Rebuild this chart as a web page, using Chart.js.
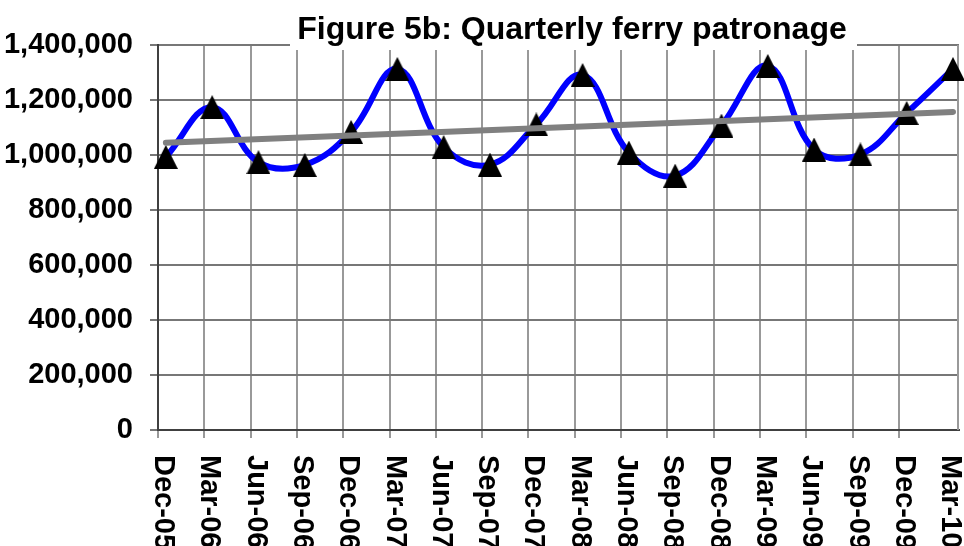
<!DOCTYPE html>
<html>
<head>
<meta charset="utf-8">
<script src="https://cdn.jsdelivr.net/npm/chart.js@4"></script>
<style>
body{margin:0;background:#fff}
</style>
</head>
<body>
<canvas id="myChart" width="964" height="546"></canvas>
<script>
const quarters = ["Dec-05","Mar-06","Jun-06","Sep-06","Dec-06","Mar-07","Jun-07","Sep-07","Dec-07","Mar-08","Jun-08","Sep-08","Dec-08","Mar-09","Jun-09","Sep-09","Dec-09","Mar-10"]

const patronage = [993000,1174000,974000,964000,1084000,1313000,1029000,965000,1111000,1291000,1009000,925000,1107000,1324000,1020000,1002000,1153000,1313000]

const trendEnds = [1044700,1156400]

const yTicks = [0,200000,400000,600000,800000,1000000,1200000,1400000]

const titleText = "Figure 5b: Quarterly ferry patronage"

const font = "'Liberation Sans', Arial, sans-serif"
const shift = 0.17

// excel style triangle marker
const tri = document.createElement("canvas")
tri.width = 24
tri.height = 24
const tc = tri.getContext("2d")
tc.fillStyle = "#000"
tc.beginPath()
tc.moveTo(12,0)
tc.lineTo(24,24)
tc.lineTo(0,24)
tc.closePath()
tc.fill()

const extras = {
id:"extras",
beforeDatasetsDraw(chart){
const ctx = chart.ctx
const a = chart.chartArea
ctx.save()
ctx.strokeStyle = "#999"
ctx.lineWidth = 2
ctx.beginPath()
ctx.moveTo(a.right-1,a.top)
ctx.lineTo(a.right-1,a.bottom)
ctx.stroke()
ctx.fillStyle = "#fff"
ctx.fillRect(290,0,567,50)
ctx.fillStyle = "#000"
ctx.font = "bold 32px " + font
ctx.textAlign = "center"
ctx.textBaseline = "alphabetic"
ctx.fillText(titleText,572,39)
ctx.restore()
},
afterDraw(chart){
const ctx = chart.ctx
const xs = chart.scales.x
ctx.save()
ctx.fillStyle = "#000"
ctx.font = "bold 29px " + font
ctx.textAlign = "left"
ctx.textBaseline = "alphabetic"
quarters.forEach((q,i)=>{
const px = xs.getPixelForValue(i)
ctx.save()
ctx.translate(px-3,455)
ctx.rotate(Math.PI/2)
ctx.fillText(q,0,0)
ctx.restore()
})
ctx.restore()
}
}

new Chart(document.getElementById("myChart"),{
type:"line",
data:{
datasets:[
{
label:"Trend",
data:[{x:shift,y:trendEnds[0]},{x:quarters.length-1+shift,y:trendEnds[1]}],
borderColor:"#808080",
borderWidth:6,
borderCapStyle:"round",
pointRadius:0,
tension:0
},
{
label:"Patronage",
data:patronage.map((v,i)=>({x:i+shift,y:v})),
borderColor:"#0000ff",
borderWidth:6,
tension:0.4,
pointStyle:tri,
pointRadius:12,
pointBackgroundColor:"#000",
pointBorderColor:"#000"
}
]
},
options:{
responsive:false,
animation:false,
clip:false,
layout:{autoPadding:false,padding:{top:45,right:5,left:0,bottom:0}},
plugins:{legend:{display:false},tooltip:{enabled:false},title:{display:false}},
scales:{
x:{
type:"linear",
min:0,
max:17.3,
afterBuildTicks(s){
s.ticks = s.ticks.filter(t=>Number.isInteger(t.value))
},
afterFit(s){s.height = 116},
ticks:{stepSize:1,display:false},
grid:{color:"#999",lineWidth:2,tickLength:8},
border:{color:"#404040",width:2}
},
y:{
min:0,
max:1400000,
afterBuildTicks(s){
s.ticks = yTicks.map(v=>({value:v}))
},
afterFit(s){s.width = 158},
ticks:{
padding:17,
color:"#000",
font:{family:font,size:29,weight:"bold"},
callback:v=>v.toLocaleString("en-US")
},
grid:{color:"#777",lineWidth:2,tickLength:8},
border:{color:"#404040",width:2}
}
}
},
plugins:[extras]
})
</script>
</body>
</html>
